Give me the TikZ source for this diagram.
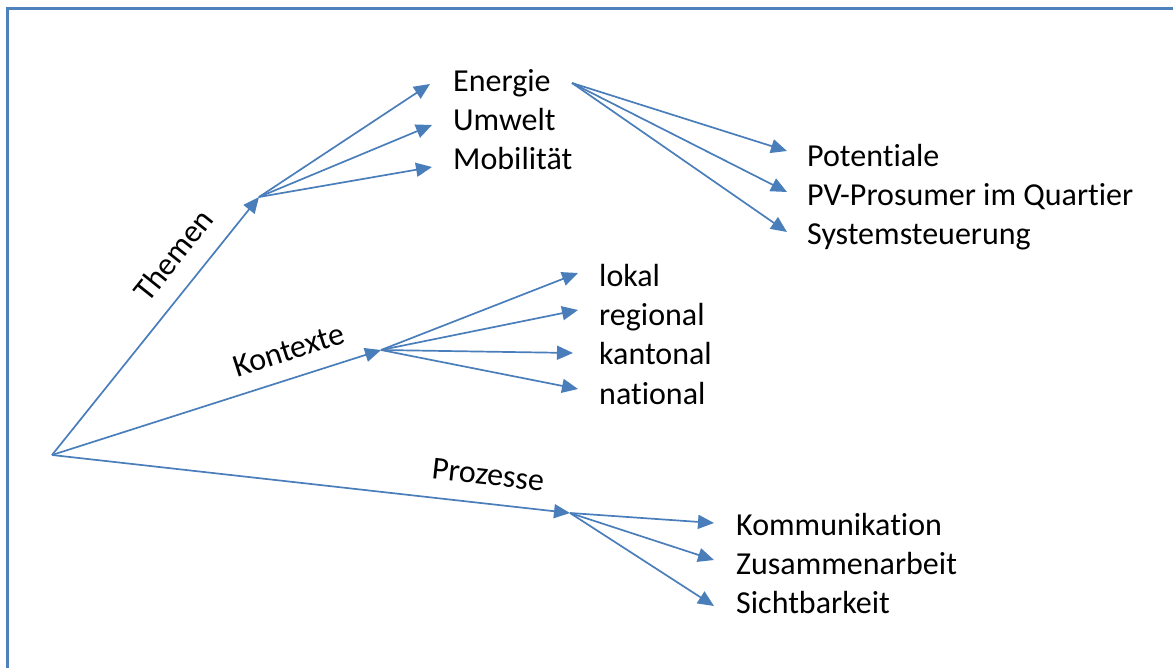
\documentclass[tikz,border=0pt]{standalone}
\usepackage{fontspec}
\setmainfont{Carlito}[Ligatures={NoCommon}]
\usetikzlibrary{arrows.meta}
\definecolor{linkblue}{RGB}{74,126,187}
\definecolor{frameblue}{RGB}{79,129,189}
\begin{document}
\begin{tikzpicture}[x=1pt,y=-1pt,
  conn/.style={draw=linkblue,line width=1.7pt,-{Triangle[length=16pt,width=14pt]}},
  item/.style={anchor=base west,inner sep=0pt,font=\fontsize{32}{38}\selectfont},
  lbl/.style={anchor=base,inner sep=0pt,font=\fontsize{32}{38}\selectfont}]
\useasboundingbox (0,0) rectangle (1173,668);
\draw[frameblue,line width=3pt] (7,668) -- (7,9) -- (1173,9);

\coordinate (root) at (52,455);
\coordinate (hT) at (259,197);
\coordinate (hK) at (381,350);
\coordinate (hP) at (570,513);
\coordinate (hE) at (572,83);

% text nodes
\node[item] (energie) at (453,92) {Energie};
\node[item] (umwelt) at (453,131) {Umwelt};
\node[item] (mobil) at (453,170) {Mobilität};
\node[item] (pot) at (807,167) {Potentiale};
\node[item] (pv) at (807,206) {PV-Prosumer im Quartier};
\node[item] (sys) at (807,245) {Systemsteuerung};
\node[item] (lokal) at (599,287) {lokal};
\node[item] (regional) at (599,326) {regional};
\node[item] (kantonal) at (599,365) {kantonal};
\node[item] (national) at (599,404) {national};
\node[item] (komm) at (736,535) {Kommunikation};
\node[item] (zus) at (736,574) {Zusammenarbeit};
\node[item] (sicht) at (736,613) {Sichtbarkeit};

\node[lbl,rotate=51.4] (lT) at (182,262) {Themen};
\node[lbl,rotate=17.8] (lK) at (292,360) {Kontexte};
\node[lbl,rotate=-6.4] (lP) at (487,485) {Prozesse};

% arrow tip coordinates
\coordinate (tE) at (430,84);
\coordinate (tU) at (432,125);
\coordinate (tM) at (432,167);
\coordinate (tPot) at (787,151);
\coordinate (tPV) at (787,192);
\coordinate (tSys) at (787,232);
\coordinate (tLok) at (578,273);
\coordinate (tReg) at (578,310);
\coordinate (tKan) at (573,353);
\coordinate (tNat) at (578,389);
\coordinate (tKom) at (714,523);
\coordinate (tZus) at (714,560);
\coordinate (tSic) at (714,606);

\draw[conn] (root) -- (hT);
\draw[conn] (root) -- (hK);
\draw[conn] (root) -- (hP);

\draw[conn] (hT) -- (tE);
\draw[conn] (hT) -- (tU);
\draw[conn] (hT) -- (tM);

\draw[conn] (hE) -- (tPot);
\draw[conn] (hE) -- (tPV);
\draw[conn] (hE) -- (tSys);

\draw[conn] (hK) -- (tLok);
\draw[conn] (hK) -- (tReg);
\draw[conn] (hK) -- (tKan);
\draw[conn] (hK) -- (tNat);

\draw[conn] (hP) -- (tKom);
\draw[conn] (hP) -- (tZus);
\draw[conn] (hP) -- (tSic);
\end{tikzpicture}
\end{document}
